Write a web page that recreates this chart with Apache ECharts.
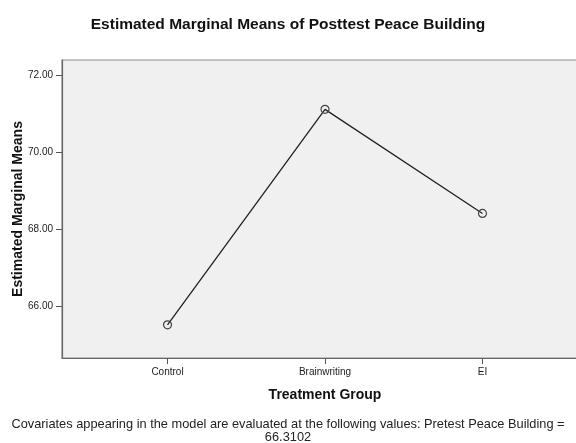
<!DOCTYPE html>
<html>
<head>
<meta charset="utf-8">
<script src="https://cdn.jsdelivr.net/npm/echarts@6/dist/echarts.min.js"></script>
<style>html,body{margin:0;padding:0;background:#fff}#c{width:576px;height:443px}</style>
</head>
<body>
<div id="c"></div>
<script>
var categories = ['Control', 'Brainwriting', 'EI'];
var means = [65.53, 71.12, 68.42];
var yTicks = [66, 68, 70, 72];
var chartTitle = 'Estimated Marginal Means of Posttest Peace Building';
var xTitle = 'Treatment Group';
var yTitle = 'Estimated Marginal Means';
var footnoteLines = ['Covariates appearing in the model are evaluated at the following values: Pretest Peace Building =', '66.3102'];

var FONT = '"Liberation Sans", Arial, sans-serif';
var chart = echarts.init(document.getElementById('c'), null, {renderer: 'canvas'});
chart.setOption({
  animation: false,
  backgroundColor: '#ffffff',
  textStyle: {fontFamily: FONT},
  title: {
    text: chartTitle,
    left: 'center',
    top: 12,
    textStyle: {fontFamily: FONT, fontSize: 15.5, fontWeight: 'bold', color: '#111'}
  },
  graphic: footnoteLines.map(function (t, i) {
    return {
      type: 'text',
      left: 'center',
      top: 418 + i * 13,
      style: {text: t, font: '12.8px ' + FONT, fill: '#222'}
    };
  }),
  grid: {
    left: 62, top: 60, bottom: 85, right: -12,
    outerBoundsMode: 'none',
    containLabel: false,
    show: true, backgroundColor: '#f0f0f0', borderColor: '#8c8c8c', borderWidth: 1.2
  },
  xAxis: {
    type: 'value',
    min: -0.67, max: 2.67,
    splitLine: {show: false},
    axisLine: {show: true, onZero: false, lineStyle: {color: '#666', width: 1.2}},
    axisTick: {show: true, customValues: [0, 1, 2], length: 6, lineStyle: {color: '#555'}},
    axisLabel: {customValues: [0, 1, 2], margin: 9, fontSize: 10, color: '#222', fontFamily: FONT,
      formatter: function (v) { return categories[Math.round(v)] || ''; }},
    name: xTitle,
    nameLocation: 'middle',
    nameGap: 30,
    nameMoveOverlap: false,
    nameTextStyle: {fontFamily: FONT, fontSize: 14, fontWeight: 'bold', color: '#111', verticalAlign: 'top'}
  },
  yAxis: {
    type: 'value',
    min: 64.67, max: 72.40,
    splitLine: {show: false},
    axisLine: {show: true, onZero: false, lineStyle: {color: '#666', width: 1.2}},
    axisTick: {show: true, customValues: yTicks, length: 6, lineStyle: {color: '#555'}},
    axisLabel: {customValues: yTicks, margin: 9, fontSize: 10, color: '#222', fontFamily: FONT,
      formatter: function (v) { return v.toFixed(2); }},
    name: yTitle,
    nameLocation: 'middle',
    nameGap: 37,
    nameRotate: 90,
    nameMoveOverlap: false,
    nameTextStyle: {fontFamily: FONT, fontSize: 14, fontWeight: 'bold', color: '#111'}
  },
  series: [{
    type: 'line',
    data: means.map(function (v, i) { return [i, v]; }),
    symbol: 'circle',
    symbolSize: 8,
    lineStyle: {color: '#222', width: 1.3},
    itemStyle: {color: 'rgba(0,0,0,0)', borderColor: '#444', borderWidth: 1.2},
    z: 3
  }]
});
</script>
</body>
</html>
